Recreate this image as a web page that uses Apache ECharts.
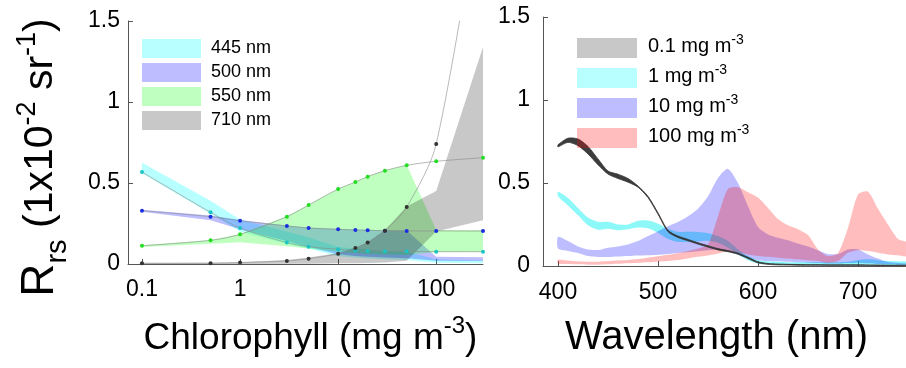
<!DOCTYPE html>
<html><head><meta charset="utf-8">
<script src="https://cdn.jsdelivr.net/npm/echarts@6/dist/echarts.min.js"></script>
<style>html,body{margin:0;padding:0;background:#fff}#c{width:906px;height:368px}</style>
</head><body><div id="c"></div>
<script>
// ---------- Left panel: Rrs vs chlorophyll ----------
const chl = [0.1, 0.5, 1, 3, 5, 10, 15, 20, 30, 50, 100, 300];
const chlTicks = [0.1, 1, 10, 100];
const leftNames = ['445 nm', '500 nm', '550 nm', '710 nm'];
const dot445 = [0.568, 0.319, 0.222, 0.132, 0.107, 0.091, 0.084, 0.081, 0.079, 0.078, 0.076, 0.076];
const dot500 = [0.329, 0.292, 0.267, 0.235, 0.222, 0.214, 0.210, 0.208, 0.205, 0.204, 0.204, 0.203];
const dot550 = [0.113, 0.146, 0.183, 0.292, 0.364, 0.463, 0.506, 0.539, 0.576, 0.609, 0.634, 0.656];
const dot710 = [0.004, 0.005, 0.009, 0.019, 0.033, 0.063, 0.099, 0.132, 0.205, 0.352, 0.741, 2.4];
const lo445 = [0.56, 0.31, 0.2, 0.125, 0.095, 0.048, 0.04, 0.034, 0.03, 0.025, 0.008, 0.005];
const hi445 = [0.625, 0.39, 0.275, 0.2, 0.165, 0.105, 0.095, 0.09, 0.082, 0.075, 0.03, 0.022];
const lo500 = [0.322, 0.27, 0.215, 0.14, 0.105, 0.06, 0.05, 0.045, 0.04, 0.035, 0.02, 0.018];
const hi500 = [0.335, 0.30, 0.272, 0.238, 0.226, 0.217, 0.213, 0.211, 0.208, 0.207, 0.045, 0.042];
const lo550 = [0.105, 0.125, 0.135, 0.11, 0.095, 0.075, 0.068, 0.062, 0.058, 0.055, 0.074, 0.074];
const hi550 = [0.115, 0.148, 0.185, 0.294, 0.366, 0.465, 0.508, 0.541, 0.578, 0.611, 0.21, 0.21];
const lo710 = [0, 0, 0, 0.001, 0.002, 0.004, 0.005, 0.006, 0.01, 0.02, 0.2, 0.27];
const hi710 = [0.008, 0.008, 0.011, 0.025, 0.04, 0.068, 0.1, 0.135, 0.21, 0.355, 0.45, 1.34];

// ---------- Right panel: Rrs spectra ----------
const wl = [400,410,420,430,440,450,460,470,480,490,500,510,520,530,540,550,560,570,580,590,600,610,620,630,640,650,660,670,680,690,700,710,720,730,740,750];
const wlTicks = [400, 500, 600, 700];
const rightNames = ['0.1', '1', '10', '100'];
const lo01 = [0.718,0.745,0.725,0.675,0.61,0.554,0.527,0.505,0.475,0.412,0.312,0.207,0.172,0.152,0.132,0.114,0.097,0.086,0.071,0.045,0.019,0.01,0.007,0.006,0.005,0.005,0.005,0.004,0.004,0.004,0.004,0.004,0.003,0.003,0.003,0.003];
const hi01 = [0.73,0.77,0.765,0.72,0.645,0.572,0.553,0.527,0.482,0.42,0.32,0.215,0.18,0.16,0.14,0.122,0.105,0.093,0.078,0.052,0.025,0.015,0.012,0.01,0.009,0.008,0.008,0.007,0.007,0.007,0.007,0.006,0.006,0.005,0.005,0.005];
const lo1 = [0.42,0.365,0.305,0.245,0.218,0.225,0.216,0.222,0.232,0.228,0.2,0.162,0.145,0.145,0.148,0.152,0.14,0.11,0.07,0.035,0.015,0.01,0.008,0.007,0.007,0.006,0.006,0.006,0.006,0.006,0.008,0.008,0.007,0.006,0.006,0.005];
const hi1 = [0.448,0.41,0.35,0.292,0.266,0.266,0.25,0.25,0.272,0.274,0.255,0.225,0.206,0.206,0.205,0.198,0.18,0.15,0.1,0.06,0.035,0.028,0.025,0.022,0.022,0.022,0.022,0.022,0.022,0.025,0.035,0.04,0.035,0.03,0.028,0.025];
const lo10 = [0.105,0.09,0.078,0.06,0.054,0.054,0.057,0.06,0.063,0.065,0.068,0.073,0.078,0.084,0.089,0.095,0.1,0.09,0.07,0.05,0.035,0.03,0.028,0.025,0.022,0.02,0.018,0.015,0.015,0.018,0.02,0.016,0.012,0.01,0.008,0.008];
const hi10 = [0.175,0.15,0.118,0.1,0.096,0.11,0.118,0.13,0.15,0.18,0.21,0.24,0.265,0.3,0.345,0.42,0.53,0.585,0.5,0.36,0.235,0.19,0.17,0.155,0.135,0.118,0.095,0.072,0.072,0.1,0.1,0.07,0.045,0.024,0.018,0.014];
const lo100 = [0.014,0.012,0.01,0.008,0.008,0.01,0.013,0.016,0.02,0.023,0.026,0.03,0.036,0.045,0.055,0.063,0.075,0.09,0.08,0.07,0.06,0.055,0.05,0.045,0.04,0.035,0.03,0.02,0.03,0.08,0.095,0.09,0.08,0.07,0.065,0.06];
const hi100 = [0.039,0.033,0.028,0.025,0.026,0.03,0.033,0.036,0.042,0.05,0.058,0.068,0.077,0.09,0.105,0.13,0.3,0.465,0.475,0.445,0.413,0.35,0.283,0.245,0.222,0.186,0.1,0.06,0.078,0.23,0.43,0.448,0.345,0.25,0.163,0.14];

const FONT = "'Liberation Sans', Arial, Helvetica, sans-serif";
const AX = '#555';

// A band (range between lo and hi) drawn as one polygon through the axes' own coordinate mapping
function band(name, xs, lo, hi, color, gi, smooth, edge, z) {
  return {
    type: 'custom', name: name, xAxisIndex: gi, yAxisIndex: gi, silent: true, animation: false, clip: true, z: z || 2,
    data: xs.map((x, i) => [x, lo[i], hi[i]]),
    encode: {x: 0, y: [1, 2]},
    itemStyle: {color: color},
    renderItem: function (params, api) {
      if (params.dataIndex !== 0) return null;
      const pts = [];
      for (let i = 0; i < xs.length; i++) pts.push(api.coord([xs[i], hi[i]]));
      for (let i = xs.length - 1; i >= 0; i--) pts.push(api.coord([xs[i], lo[i]]));
      return {
        type: 'polygon',
        shape: {points: pts, smooth: smooth || 0},
        style: {fill: color, stroke: edge || null, lineWidth: edge ? 0.8 : 0}
      };
    }
  };
}
function dots(name, ys, color) {
  return {type: 'line', name: name, xAxisIndex: 0, yAxisIndex: 0, data: chl.map((x, i) => [x, ys[i]]),
    symbol: 'circle', symbolSize: 4, showSymbol: true, smooth: 0.3, silent: true, animation: false, z: 5,
    itemStyle: {color: color}, lineStyle: {color: '#8a8a8a', width: 0.6}};
}

const cols = {c445: 'rgba(0,255,255,0.28)', c500: 'rgba(0,0,255,0.26)', c550: 'rgba(0,255,0,0.25)', c710: 'rgba(0,0,0,0.215)'};
const series = [
  band(leftNames[0], chl, lo445, hi445, cols.c445, 0, 0),
  band(leftNames[1], chl, lo500, hi500, cols.c500, 0, 0),
  band(leftNames[2], chl, lo550, hi550, cols.c550, 0, 0),
  band(leftNames[3], chl, lo710, hi710, cols.c710, 0, 0),
  dots('d445', dot445, '#1cc4c4'), dots('d500', dot500, '#1a30e0'), dots('d550', dot550, '#22dd22'), dots('d710', dot710, '#333333'),
  band(rightNames[1], wl, lo1, hi1, 'rgba(0,240,240,0.45)', 1, 0.25),
  band(rightNames[2], wl, lo10, hi10, 'rgba(0,0,255,0.26)', 1, 0.25),
  band(rightNames[3], wl, lo100, hi100, 'rgba(255,0,0,0.26)', 1, 0.25),
  band(rightNames[0], wl, lo01, hi01, 'rgba(45,45,45,0.92)', 1, 0.25, '#333', 3)
];

function yAx(gi, margin) {
  return {type: 'value', gridIndex: gi, min: 0, max: 1.5, interval: 0.5,
    axisLine: {show: true, lineStyle: {color: AX, width: 1}},
    axisTick: {show: true, inside: true, length: 5, lineStyle: {color: AX}},
    axisLabel: {fontSize: 23, color: '#000', fontFamily: FONT, margin: margin},
    splitLine: {show: false}};
}

const option = {
  animation: false,
  backgroundColor: '#fff',
  grid: [
    {left: 128, top: 21, width: 355, height: 243, outerBoundsMode: 'none', containLabel: false},
    {left: 543, top: 17, width: 363, height: 249, outerBoundsMode: 'none', containLabel: false}
  ],
  xAxis: [
    {type: 'log', gridIndex: 0, logBase: 10, min: 0.072, max: 300,
      axisLine: {show: true, onZero: false, lineStyle: {color: AX, width: 1}},
      axisTick: {show: true, inside: true, length: 5, customValues: chlTicks, lineStyle: {color: AX}},
      minorTick: {show: false},
      axisLabel: {customValues: chlTicks, formatter: v => String(+(+v).toPrecision(6)), fontSize: 23, color: '#000', fontFamily: FONT, margin: 14},
      splitLine: {show: false},
      name: '{m|Chlorophyll (mg m}{p|-3}{m|)}', nameLocation: 'middle', nameGap: 56,
      nameTextStyle: {fontFamily: FONT, color: '#000', padding: [0, 0, 0, 10], rich: {
        m: {fontSize: 37, lineHeight: 37, verticalAlign: 'bottom', fontFamily: FONT, color: '#000'},
        p: {fontSize: 24, lineHeight: 24, padding: [0, 0, 19, 0], verticalAlign: 'bottom', fontFamily: FONT, color: '#000'}}}
    },
    {type: 'value', gridIndex: 1, min: 385, max: 748,
      axisLine: {show: true, onZero: false, lineStyle: {color: AX, width: 1}},
      axisTick: {show: true, inside: true, length: 5, customValues: wlTicks, lineStyle: {color: AX}},
      axisLabel: {customValues: wlTicks, fontSize: 23, color: '#000', fontFamily: FONT, margin: 15},
      splitLine: {show: false},
      name: 'Wavelength (nm)', nameLocation: 'middle', nameGap: 52,
      nameTextStyle: {fontSize: 40, fontFamily: FONT, color: '#000', padding: [0, 16, 0, 0]}
    }
  ],
  yAxis: [
    Object.assign(yAx(0, 8), {
      name: '{R|R}{s|rs}{m| (1x10}{p|-2}{m| sr}{p|-1}{m|)}', nameLocation: 'middle', nameGap: 56,
      nameTextStyle: {fontFamily: FONT, color: '#000', padding: [0, 30, 0, 0], rich: {
        R: {fontSize: 46, lineHeight: 46, padding: [0, 0, 9, 0], verticalAlign: 'bottom', fontFamily: FONT, color: '#000'},
        s: {fontSize: 29, lineHeight: 29, verticalAlign: 'bottom', fontFamily: FONT, color: '#000'},
        m: {fontSize: 41, lineHeight: 41, padding: [0, 0, 11, 0], verticalAlign: 'bottom', fontFamily: FONT, color: '#000'},
        p: {fontSize: 27, lineHeight: 27, padding: [0, 0, 31, 0], verticalAlign: 'bottom', fontFamily: FONT, color: '#000'}}}
    }),
    yAx(1, 13)
  ],
  legend: [
    {data: leftNames.map((n, i) => ({name: n, icon: 'rect', itemStyle: {color: [cols.c445, cols.c500, cols.c550, cols.c710][i]}})),
      orient: 'vertical', left: 142, top: 39, itemWidth: 59, itemHeight: 19, itemGap: 5, padding: 0,
      selectedMode: false, textStyle: {fontSize: 18, color: '#000', fontFamily: FONT, padding: [0, 0, 0, 5]}},
    {data: rightNames.map((n, i) => ({name: n, icon: 'rect', itemStyle: {color: ['rgba(0,0,0,0.215)', 'rgba(0,255,255,0.28)', 'rgba(0,0,255,0.26)', 'rgba(255,0,0,0.26)'][i]}})),
      orient: 'vertical', left: 577, top: 33, itemWidth: 60, itemHeight: 20, itemGap: 5, padding: 0,
      selectedMode: false,
      formatter: n => '{a|' + n + ' mg m}{s|-3}',
      textStyle: {fontSize: 20, color: '#000', fontFamily: FONT, padding: [0, 0, 0, 6], rich: {
        a: {fontSize: 20, lineHeight: 20, padding: [0, 0, 2, 0], verticalAlign: 'bottom', fontFamily: FONT, color: '#000'},
        s: {fontSize: 14, lineHeight: 14, padding: [0, 0, 11, 0], verticalAlign: 'bottom', fontFamily: FONT, color: '#000'}}}}
  ],
  series: series
};
const chart = echarts.init(document.getElementById('c'), null, {renderer: 'canvas'});
chart.setOption(option);
</script></body></html>
